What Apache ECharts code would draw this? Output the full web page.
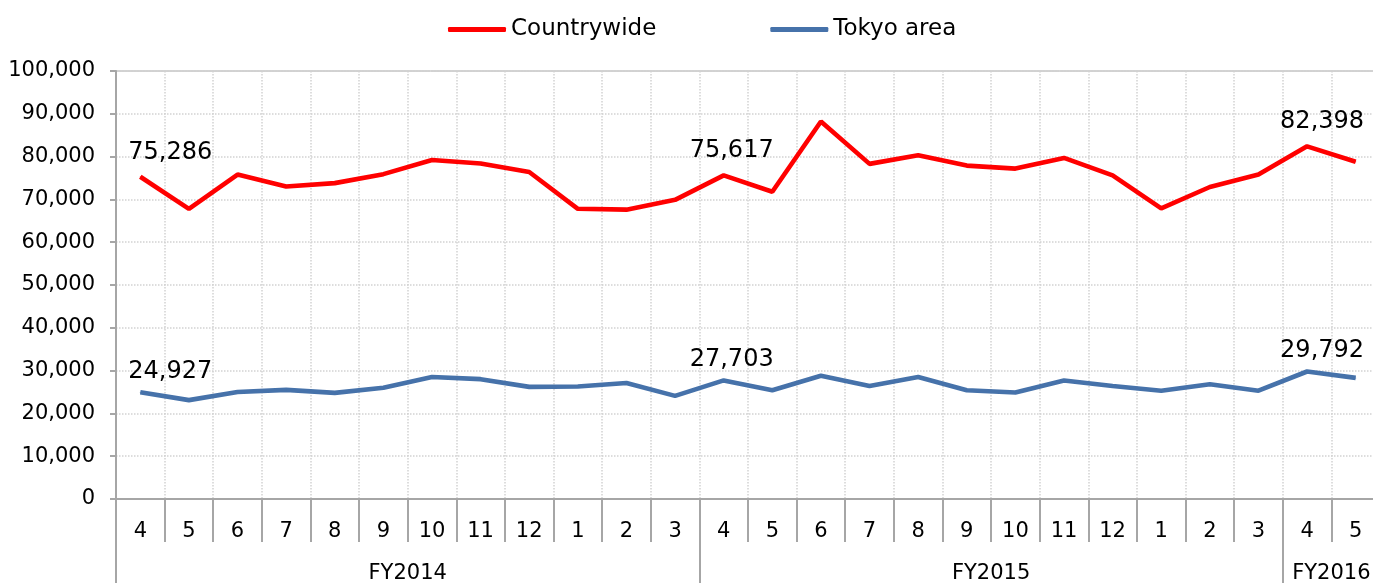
<!DOCTYPE html>
<html>
<head>
<meta charset="utf-8">
<script src="https://cdn.jsdelivr.net/npm/echarts@6/dist/echarts.min.js"></script>
<style>html,body{margin:0;padding:0;background:#fff}#c{width:1373px;height:583px}</style>
</head>
<body>
<div id="c"></div>
<script>
var months = ['4','5','6','7','8','9','10','11','12','1','2','3','4','5','6','7','8','9','10','11','12','1','2','3','4','5'];
var fyLabels = ['FY2014','FY2015','FY2016'];
var fyStart = [0, 12, 24];
var fyEnd = [12, 24, 26];
var countrywide = [75286,67800,75800,73000,73800,75900,79200,78400,76400,67800,67600,69900,75617,71800,88200,78300,80300,77900,77200,79700,75600,67900,72900,75800,82398,78800];
var tokyo = [24927,23100,25000,25500,24800,26000,28500,28000,26200,26300,27100,24100,27703,25400,28800,26400,28500,25400,24900,27700,26400,25300,26800,25300,29792,28300];
var labeled = [0, 12, 24];

var FONT = 'DejaVu Sans, Verdana, sans-serif';
var labelDx = {0: 30, 12: 8, 24: 15};

// FY group axis: 27 boundary points
var boundaries = [];
for (var i = 0; i <= months.length; i++) boundaries.push(String(i));
var fyLabelAt = {};
for (var k = 0; k < fyLabels.length; k++) {
  fyLabelAt[(fyStart[k] + fyEnd[k]) / 2] = fyLabels[k];
}

function buildData(vals, dist) {
  return vals.map(function (v, i) {
    if (labeled.indexOf(i) >= 0) {
      return {
        value: v,
        label: {
          show: true, position: 'top', distance: dist, offset: [labelDx[i], 0],
          fontFamily: FONT, fontSize: 24, color: '#000',
          formatter: function (p) { return p.value.toLocaleString('en-US'); }
        }
      };
    }
    return v;
  });
}

var chart = echarts.init(document.getElementById('c'));
chart.setOption({
  animation: false,
  legend: {
    top: 13, left: 443,
    itemWidth: 58, itemHeight: 5, itemGap: 114,
    icon: 'roundRect',
    textStyle: { fontFamily: FONT, fontSize: 23, color: '#000' },
    data: ['Countrywide', 'Tokyo area']
  },
  grid: { left: 116, top: 71, width: 1264, height: 428, show: true, borderColor: '#a6a6a6', borderWidth: 1, containLabel: false, outerBoundsMode: 'none' },
  xAxis: [
    {
      type: 'category', data: months, boundaryGap: true, position: 'bottom',
      axisLine: { lineStyle: { color: '#a6a6a6', width: 2 } },
      axisTick: { show: true, length: 43, lineStyle: { color: '#a6a6a6', width: 2 } },
      axisLabel: { fontFamily: FONT, fontSize: 21, color: '#000', margin: 22, interval: 0 },
      splitLine: { show: true, lineStyle: { type: 'dotted', color: '#d2d2d2', width: 1.5 } }
    },
    {
      type: 'category', data: boundaries, boundaryGap: false, position: 'bottom',
      axisLine: { show: false },
      axisTick: {
        show: true, length: 90, lineStyle: { color: '#a6a6a6', width: 2 },
        interval: function (idx) { return fyStart.indexOf(idx) >= 0; }
      },
      axisLabel: {
        fontFamily: FONT, fontSize: 21, color: '#000', margin: 64,
        interval: function (idx) { return fyLabelAt[idx] !== undefined; },
        formatter: function (v, idx) { return fyLabelAt[idx] || ''; }
      },
      splitLine: { show: false }
    }
  ],
  yAxis: {
    type: 'value', min: 0, max: 100000, interval: 10000,
    axisLine: { show: true, lineStyle: { color: '#a6a6a6', width: 2 } },
    axisTick: { show: true, length: 6, lineStyle: { color: '#a6a6a6', width: 2 } },
    axisLabel: {
      fontFamily: FONT, fontSize: 21, color: '#000', margin: 21,
      formatter: function (v) { return v.toLocaleString('en-US'); }
    },
    splitLine: { show: true, lineStyle: { type: 'dotted', color: '#d2d2d2', width: 1.5 } }
  },
  series: [
    {
      name: 'Countrywide', type: 'line', xAxisIndex: 0, data: buildData(countrywide, 12),
      symbol: 'circle', symbolSize: 1, showSymbol: true,
      lineStyle: { color: '#ff0000', width: 4.6 }, itemStyle: { color: '#ff0000' }
    },
    {
      name: 'Tokyo area', type: 'line', xAxisIndex: 0, data: buildData(tokyo, 8),
      symbol: 'circle', symbolSize: 1, showSymbol: true,
      lineStyle: { color: '#4672aa', width: 4.6 }, itemStyle: { color: '#4672aa' }
    }
  ]
});
</script>
</body>
</html>
